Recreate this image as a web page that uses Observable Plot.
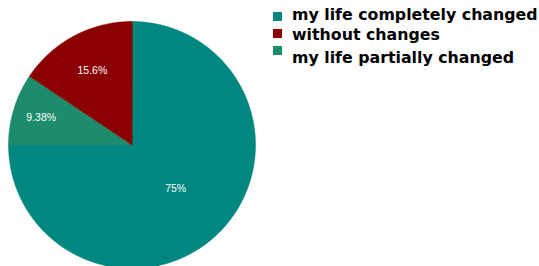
<!DOCTYPE html>
<html>
<head>
<meta charset="utf-8">
<script src="https://cdn.jsdelivr.net/npm/d3@7"></script>
<script src="https://cdn.jsdelivr.net/npm/@observablehq/plot@0.6"></script>
<style>
  html, body { margin: 0; padding: 0; background: #fff; }
  #wrap { position: relative; width: 539px; height: 266px; overflow: hidden; }
  .sw { position: absolute; left: 273px; width: 9px; height: 9px; }
  .lt { position: absolute; left: 292px; font-family: "DejaVu Sans", sans-serif; font-weight: bold; font-size: 15.8px; line-height: 16px; color: #000; white-space: nowrap; }
</style>
</head>
<body>
<div id="wrap"></div>
<script>
const categories = ["my life completely changed", "without changes", "my life partially changed"];
const values = [75, 15.6, 9.38];
const labels = ["75%", "15.6%", "9.38%"];
const colors = ["#00877f", "#8b0000", "#1d8c6d"];
// slice drawing order clockwise from 12 o'clock
const drawOrder = ["my life completely changed", "my life partially changed", "without changes"];

const total = d3.sum(values);
const byName = new Map(categories.map((c, i) => [c, {name: c, value: values[i], label: labels[i], color: colors[i]}]));

const pts = [];
const labelPts = [];
let start = 0;
for (const name of drawOrder) {
  const d = byName.get(name);
  const share = d.value / total;
  const a0 = start * 2 * Math.PI;
  const a1 = (start + share) * 2 * Math.PI;
  pts.push({key: name, x: 0, y: 0});
  const n = Math.max(4, Math.ceil((a1 - a0) / 0.01));
  for (let k = 0; k <= n; k++) {
    const a = a0 + (a1 - a0) * k / n;
    pts.push({key: name, x: Math.sin(a), y: Math.cos(a)});
  }
  const mid = (a0 + a1) / 2;
  const r = share > 0.5 ? 0.5 : 0.9 - 1.4 * share;
  labelPts.push({label: d.label, x: r * Math.sin(mid), y: r * Math.cos(mid)});
  start += share;
}

const chart = Plot.plot({
  width: 539,
  height: 266,
  margin: 0,
  x: {domain: [-1, 1], range: [8, 255], axis: null},
  y: {domain: [-1, 1], range: [268, 21], axis: null},
  color: {domain: categories, range: colors},
  style: {background: "#fff"},
  marks: [
    Plot.line(pts, {x: "x", y: "y", z: "key", fill: "key", stroke: "key", strokeWidth: 0.5, curve: "linear-closed"}),
    Plot.text(labelPts, {x: "x", y: "y", text: "label", fill: "#fff", fontSize: 10.5, fontFamily: "Liberation Sans, Arial, sans-serif"})
  ]
});
const wrap = document.getElementById("wrap");
wrap.appendChild(chart);

// legend layout (Google-style: last entry's text sits below its swatch)
const swatchTops = [12, 29, 46];
const textTops = [7, 27, 50];
for (let i = 0; i < categories.length; i++) {
  const sw = document.createElement("div");
  sw.className = "sw";
  sw.style.top = swatchTops[i] + "px";
  sw.style.background = colors[i];
  const t = document.createElement("div");
  t.className = "lt";
  t.style.top = textTops[i] + "px";
  t.textContent = categories[i];
  wrap.appendChild(sw);
  wrap.appendChild(t);
}
</script>
</body>
</html>
